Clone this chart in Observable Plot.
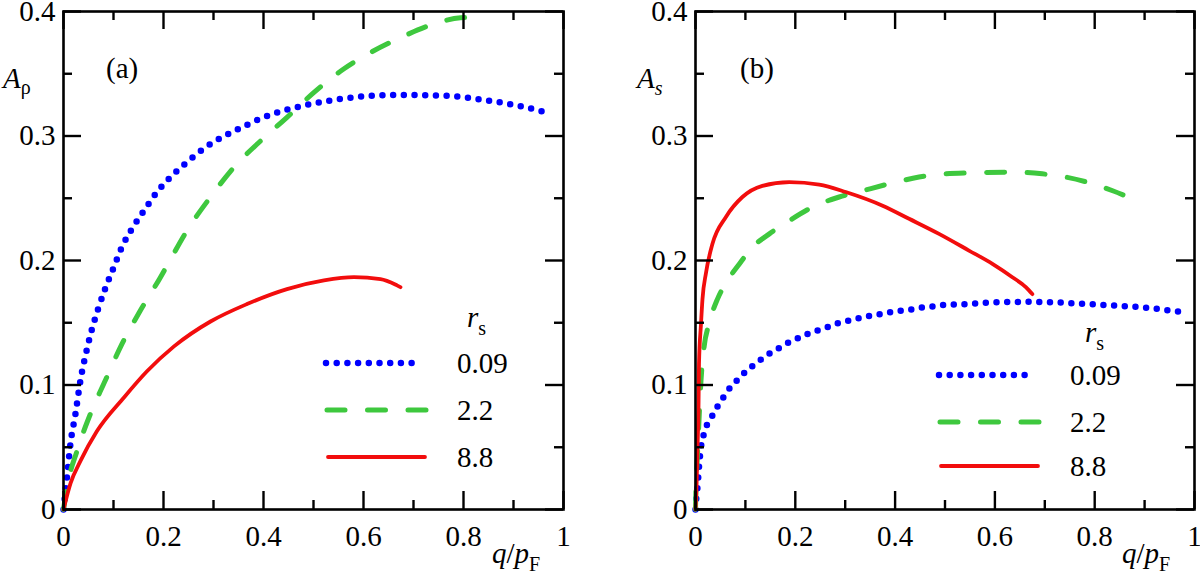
<!DOCTYPE html>
<html><head><meta charset="utf-8">
<script src="https://cdn.jsdelivr.net/npm/d3@7"></script>
<script src="https://cdn.jsdelivr.net/npm/@observablehq/plot@0.6"></script>
<style>
body{margin:0;background:#fff;}
#wrap{display:flex;width:1200px;height:579px;}
#wrap svg, #wrap svg text, #wrap svg tspan{font-family:"Liberation Serif","Times New Roman",Times,serif !important;}
</style></head><body><div id="wrap"></div>
<script>
// ---- data: panel (a) A_rho ----
const rhoQ_009 = [0,0.007,0.014,0.024,0.034,0.047,0.057,0.07,0.084,0.1,0.117,0.137,0.161,0.187,0.214,0.247,0.281,0.317,0.357,0.394,0.437,0.481,0.541,0.604,0.671,0.714,0.78,0.84,0.907,0.975];
const rhoA_009 = [0,0.026,0.053,0.077,0.104,0.129,0.145,0.162,0.178,0.194,0.211,0.2255,0.240,0.255,0.267,0.279,0.290,0.299,0.307,0.314,0.320,0.3245,0.329,0.332,0.333,0.3328,0.332,0.329,0.3245,0.318];
const rhoQ_22 = [0,0.007,0.027,0.054,0.084,0.117,0.154,0.194,0.21,0.247,0.294,0.341,0.394,0.447,0.501,0.561,0.614,0.674,0.741,0.794,0.845];
const rhoA_22 = [0,0.018,0.047,0.077,0.104,0.133,0.160,0.1866,0.198,0.224,0.251,0.275,0.296,0.315,0.335,0.354,0.367,0.379,0.390,0.395,0.3955];
const rhoQ_88 = [0,0.014,0.034,0.067,0.121,0.167,0.221,0.294,0.367,0.447,0.521,0.581,0.634,0.667,0.674];
const rhoA_88 = [0,0.021,0.039,0.063,0.090,0.111,0.131,0.151,0.165,0.177,0.184,0.1866,0.185,0.180,0.1786];
// ---- data: panel (b) A_s ----
const sQ_009 = [0,0.0007,0.004,0.007,0.011,0.017,0.024,0.034,0.044,0.057,0.069,0.084,0.0995,0.1156,0.133,0.151,0.169,0.188,0.208,0.228,0.248,0.268,0.288,0.309,0.331,0.353,0.373,0.395,0.417,0.438,0.458,0.48,0.502,0.545,0.589,0.63,0.678,0.73,0.785,0.84,0.892,0.975];
const sA_009 = [0,0.0045,0.018,0.034,0.050,0.061,0.069,0.0755,0.0827,0.0908,0.0977,0.104,0.1103,0.1157,0.121,0.126,0.130,0.1344,0.138,0.1416,0.1443,0.147,0.150,0.1518,0.154,0.1558,0.157,0.1588,0.160,0.161,0.1625,0.1633,0.1644,0.165,0.1663,0.1667,0.1668,0.1662,0.165,0.1638,0.1625,0.1585];
const sQ_22 = [0,0.0007,0.004,0.007,0.011,0.017,0.027,0.044,0.061,0.0875,0.114,0.148,0.188,0.234,0.288,0.335,0.388,0.448,0.502,0.555,0.635,0.695,0.742,0.796,0.836,0.876];
const sA_22 = [0,0.0126,0.0447,0.0715,0.1036,0.130,0.149,0.169,0.182,0.197,0.2107,0.2214,0.232,0.2428,0.251,0.256,0.2616,0.267,0.2696,0.2704,0.271,0.2696,0.267,0.2616,0.256,0.2495];
const sQ_88 = [0,0.002,0.004,0.006,0.007,0.011,0.014,0.021,0.034,0.061,0.094,0.134,0.188,0.248,0.301,0.375,0.428,0.488,0.548,0.595,0.635,0.662,0.675];
const sA_88 = [0,0.018,0.050,0.082,0.117,0.149,0.169,0.190,0.2134,0.235,0.251,0.260,0.263,0.261,0.255,0.244,0.2335,0.2214,0.208,0.1973,0.1866,0.1786,0.173];
// ---- legend / ticks ----
const rsValues = ["0.09", "2.2", "8.8"];
const xMajor = [0, 0.2, 0.4, 0.6, 0.8, 1];
const xMinor = [0.1, 0.3, 0.5, 0.7, 0.9];
const yMajor = [0, 0.1, 0.2, 0.3, 0.4];
const yMinor = [0.05, 0.15, 0.25, 0.35];

const FONT = '"Liberation Serif","Times New Roman",Times,serif';
const styles = {
  "0.09": {stroke: "#0000ff", strokeWidth: 6.5, strokeDasharray: "0,10.7", strokeLinecap: "round"},
  "2.2": {stroke: "#3ec83e", strokeWidth: 5, strokeDasharray: "18,22.5", strokeLinecap: "round"},
  "8.8": {stroke: "#f20d0d", strokeWidth: 3.8, strokeLinecap: "round"}
};
const rows = (q, A, rs) => q.map((x, i) => ({q: x, A: A[i], rs}));

function panel(cfg) {
  const W = 600, H = 579, mt = 11, mb = 70;
  const innerW = W - cfg.ml - cfg.mr, innerH = H - mt - mb;
  const lines = cfg.series.map(s => Plot.line(rows(s.q, s.A, s.rs), {x: "q", y: "A", curve: "monotone-x", ...styles[s.rs]}));
  const tk = {stroke: "black", strokeWidth: 2.4};
  const plot = Plot.plot({
    width: W, height: H, marginLeft: cfg.ml, marginRight: cfg.mr, marginTop: mt, marginBottom: mb,
    x: {domain: [0, 1]}, y: {domain: [0, 0.4]},
    style: {fontFamily: FONT, fontSize: "29px", color: "black", background: "white", overflow: "visible"},
    marks: [
      Plot.axisX(xMajor, {tickSize: 0, tickPadding: 16, fontSize: 29, label: null, tickFormat: d => String(d)}),
      Plot.axisY(yMajor, {tickSize: 0, tickPadding: 8, fontSize: 29, label: null, tickFormat: d => String(d)}),
      ...lines,
      Plot.ruleX(xMajor, {insetTop: innerH - 18, ...tk}),
      Plot.ruleX(xMinor, {insetTop: innerH - 9, ...tk}),
      Plot.ruleX(xMajor, {insetBottom: innerH - 18, ...tk}),
      Plot.ruleX(xMinor, {insetBottom: innerH - 9, ...tk}),
      Plot.ruleY(yMajor, {insetRight: innerW - 18, ...tk}),
      Plot.ruleY(yMinor, {insetRight: innerW - 9, ...tk}),
      Plot.ruleY(yMajor, {insetLeft: innerW - 18, ...tk}),
      Plot.ruleY(yMinor, {insetLeft: innerW - 9, ...tk}),
      Plot.frame({stroke: "black", strokeWidth: 2.6})
    ]
  });
  const svg = d3.select(plot);
  const t = (x, y, size) => svg.append("text").attr("x", x).attr("y", y).attr("font-size", size)
    .attr("fill", "black").attr("font-family", FONT).attr("text-anchor", "start");
  // y label
  const yl = t(cfg.yLabelX, 88, 29);
  yl.append("tspan").attr("font-style", "italic").text("A");
  yl.append("tspan").attr("font-size", 20).attr("dy", cfg.subDy).attr("font-style", cfg.subItalic ? "italic" : "normal").text(cfg.sub);
  // x label
  const xl = t(cfg.xLabelX, 563, 29);
  xl.append("tspan").attr("font-style", "italic").text("q");
  xl.append("tspan").text("/");
  xl.append("tspan").attr("font-style", "italic").text("p");
  xl.append("tspan").attr("font-size", 20).attr("dy", 8).text("F");
  // panel label
  t(cfg.panelX, 78, 29).text(cfg.panel);
  // legend
  const L = cfg.legend;
  const rl = t(L.rx, L.ry, 29);
  rl.append("tspan").attr("font-style", "italic").text("r");
  rl.append("tspan").attr("font-size", 20).attr("dy", 8).text("s");
  rsValues.forEach((rs, i) => {
    const st = styles[rs];
    svg.append("path").attr("d", `M${L.x1[i]},${L.y[i]}H${L.x2[i]}`).attr("fill", "none")
      .attr("stroke", st.stroke).attr("stroke-width", st.strokeWidth)
      .attr("stroke-dasharray", st.strokeDasharray || null).attr("stroke-linecap", st.strokeLinecap || "butt");
    t(L.tx, L.y[i], 29).attr("dy", "0.35em").text(rs);
  });
  return plot;
}

const wrap = document.getElementById("wrap");
wrap.appendChild(panel({
  ml: 63, mr: 37, panel: "(a)", panelX: 106, sub: "ρ", subDy: 6, subItalic: false, yLabelX: 3, xLabelX: 492,
  series: [{q: rhoQ_009, A: rhoA_009, rs: "0.09"}, {q: rhoQ_22, A: rhoA_22, rs: "2.2"}, {q: rhoQ_88, A: rhoA_88, rs: "8.8"}],
  legend: {x1: [326, 327, 328], x2: [417, 426, 425], y: [363, 410, 457], tx: 457, rx: 467, ry: 327}
}));
wrap.appendChild(panel({
  ml: 95, mr: 6, panel: "(b)", panelX: 140, sub: "s", subDy: 7, subItalic: true, yLabelX: 37, xLabelX: 522,
  series: [{q: sQ_009, A: sA_009, rs: "0.09"}, {q: sQ_22, A: sA_22, rs: "2.2"}, {q: sQ_88, A: sA_88, rs: "8.8"}],
  legend: {x1: [339, 340, 341], x2: [430, 439, 438], y: [375, 422, 466], tx: 470, rx: 485, ry: 342}
}));
</script></body></html>
